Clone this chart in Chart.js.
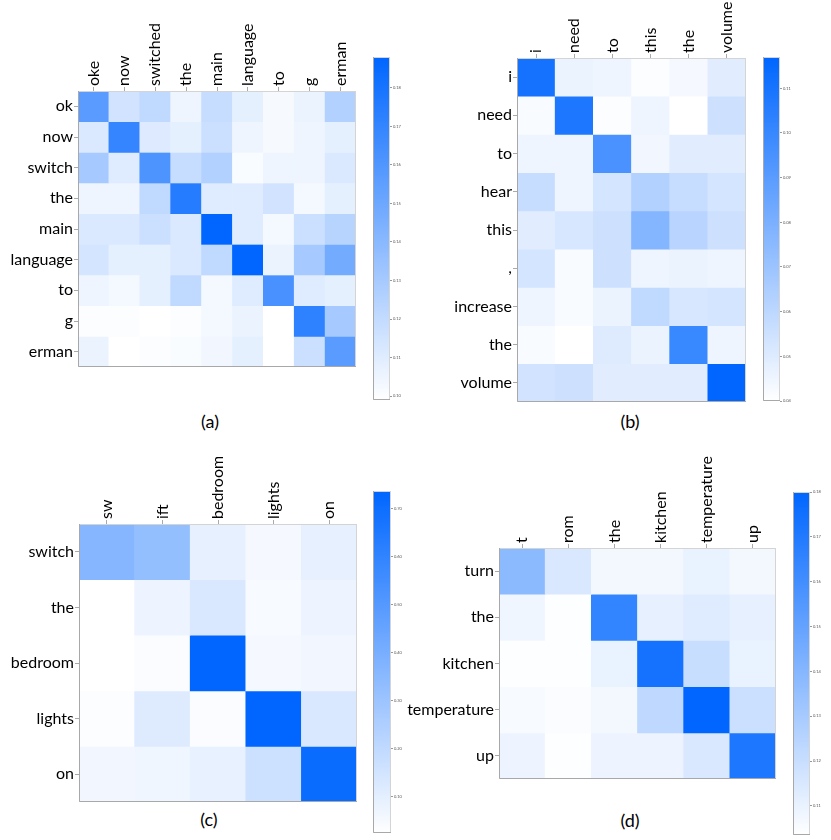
<!DOCTYPE html>
<html>
<head>
<meta charset="utf-8">
<script src="https://cdn.jsdelivr.net/npm/chart.js@4.4.1/dist/chart.umd.min.js"></script>
<style>
body { margin: 0; width: 831px; height: 840px; position: relative; overflow: hidden; background: #fff; font-family: Lato, sans-serif; }
canvas { position: absolute; }
.cap { position: absolute; font-size: 18px; color: #000; transform: translate(-50%, -50%); }
</style>
</head>
<body>
<div class="cap" style="left:210px;top:421px">(a)</div>
<div class="cap" style="left:630px;top:421px">(b)</div>
<div class="cap" style="left:209px;top:819px">(c)</div>
<div class="cap" style="left:630px;top:820px">(d)</div>
<script>
// (a)
const aCols = ['oke', 'now', 'switched', 'the', 'main', 'language', 'to', 'g', 'erman'];
const aRows = ['ok', 'now', 'switch', 'the', 'main', 'language', 'to', 'g', 'erman'];
const aValues = [
  [0.157, 0.115, 0.121, 0.105, 0.119, 0.108, 0.102, 0.106, 0.126],
  [0.112, 0.170, 0.111, 0.108, 0.117, 0.105, 0.102, 0.105, 0.108],
  [0.130, 0.110, 0.161, 0.119, 0.126, 0.101, 0.105, 0.105, 0.112],
  [0.105, 0.105, 0.121, 0.175, 0.110, 0.110, 0.115, 0.103, 0.108],
  [0.112, 0.112, 0.117, 0.112, 0.188, 0.110, 0.103, 0.117, 0.124],
  [0.114, 0.108, 0.108, 0.112, 0.121, 0.188, 0.106, 0.130, 0.148],
  [0.105, 0.103, 0.108, 0.121, 0.103, 0.110, 0.163, 0.110, 0.108],
  [0.100, 0.100, 0.099, 0.100, 0.103, 0.106, 0.099, 0.172, 0.130],
  [0.106, 0.099, 0.100, 0.101, 0.104, 0.108, 0.099, 0.117, 0.157]
];
const aTicks = [0.10, 0.11, 0.12, 0.13, 0.14, 0.15, 0.16, 0.17, 0.18];

// (b)
const bCols = ['i', 'need', 'to', 'this', 'the', 'volume'];
const bRows = ['i', 'need', 'to', 'hear', 'this', ',', 'increase', 'the', 'volume'];
const bValues = [
  [0.111, 0.046, 0.045, 0.041, 0.043, 0.049],
  [0.042, 0.108, 0.041, 0.045, 0.040, 0.055],
  [0.045, 0.045, 0.095, 0.044, 0.049, 0.049],
  [0.057, 0.045, 0.053, 0.063, 0.057, 0.053],
  [0.049, 0.052, 0.055, 0.077, 0.061, 0.055],
  [0.053, 0.042, 0.055, 0.045, 0.046, 0.045],
  [0.045, 0.042, 0.046, 0.059, 0.052, 0.053],
  [0.042, 0.040, 0.050, 0.046, 0.100, 0.045],
  [0.054, 0.055, 0.049, 0.049, 0.049, 0.117]
];
const bTicks = [0.04, 0.05, 0.06, 0.07, 0.08, 0.09, 0.10, 0.11];

// (c)
const cCols = ['sw', 'ift', 'bedroom', 'lights', 'on'];
const cRows = ['switch', 'the', 'bedroom', 'lights', 'on'];
const cValues = [
  [0.366, 0.323, 0.095, 0.053, 0.095],
  [0.024, 0.074, 0.131, 0.045, 0.074],
  [0.024, 0.038, 0.737, 0.053, 0.060],
  [0.031, 0.117, 0.038, 0.737, 0.131],
  [0.060, 0.067, 0.088, 0.167, 0.708]
];
const cTicks = [0.1, 0.2, 0.3, 0.4, 0.5, 0.6, 0.7];

// (d)
const dCols = ['t', 'rom', 'the', 'kitchen', 'temperature', 'up'];
const dRows = ['turn', 'the', 'kitchen', 'temperature', 'up'];
const dValues = [
  [0.138, 0.115, 0.107, 0.107, 0.110, 0.107],
  [0.108, 0.104, 0.165, 0.111, 0.113, 0.111],
  [0.104, 0.104, 0.110, 0.174, 0.120, 0.110],
  [0.106, 0.105, 0.107, 0.123, 0.180, 0.119],
  [0.109, 0.104, 0.109, 0.109, 0.115, 0.171]
];
const dTicks = [0.11, 0.12, 0.13, 0.14, 0.15, 0.16, 0.17, 0.18];

Chart.defaults.font.family = 'Lato';
Chart.defaults.color = '#000';

const Y_W = 96;
const X_H = 92;
const PAD_B = 14;
const FONT = 16;

function cellColor(v, min, max) {
  const t = Math.max(0, Math.min(1, (v - min) / (max - min)));
  return `rgb(${Math.round(255 * (1 - t))},${Math.round(255 - 153 * t)},255)`;
}

// grey frame round the plot area
const framePlugin = {
  id: 'frame',
  afterDatasetsDraw(chart) {
    const { ctx, chartArea: a } = chart;
    ctx.save();
    ctx.lineWidth = 1;
    ctx.strokeStyle = '#d4d4d4';
    ctx.strokeRect(a.left + 0.5, a.top + 0.5, a.right - a.left - 1, a.bottom - a.top - 1);
    ctx.strokeStyle = '#a8a8a8';
    ctx.beginPath();
    ctx.moveTo(a.left + 0.5, a.top);
    ctx.lineTo(a.left + 0.5, a.bottom - 0.5);
    ctx.lineTo(a.right, a.bottom - 0.5);
    ctx.stroke();
    ctx.restore();
  }
};

function addCanvas(left, top, width, height) {
  const c = document.createElement('canvas');
  c.style.left = left + 'px';
  c.style.top = top + 'px';
  c.width = width;
  c.height = height;
  document.body.appendChild(c);
  return c;
}

function heatmap(box, rows, cols, values, min, max) {
  const [x0, y0, x1, y1] = box;
  const canvas = addCanvas(x0 - Y_W, y0 - X_H, (x1 - x0) + Y_W + 4, (y1 - y0) + X_H + PAD_B);
  new Chart(canvas, {
    type: 'bar',
    data: {
      labels: cols,
      datasets: rows.map((r, i) => ({
        data: cols.map(() => [i - 0.5, i + 0.5]),
        backgroundColor: values[i].map(v => cellColor(v, min, max)),
        borderWidth: 0,
        barPercentage: 1,
        categoryPercentage: 1,
        grouped: false
      }))
    },
    options: {
      responsive: false,
      animation: false,
      layout: { padding: { right: 4, bottom: PAD_B } },
      plugins: { legend: { display: false }, tooltip: { enabled: false } },
      scales: {
        x: {
          position: 'top',
          grid: { offset: false, drawOnChartArea: false, tickLength: 4, color: '#aaa' },
          border: { display: false },
          // rotated top labels sit one line height left of the tick, push them back
          ticks: { font: { size: FONT }, minRotation: 90, maxRotation: 90, padding: 1, autoSkip: false, labelOffset: FONT * 1.2 },
          afterFit: s => { s.height = X_H; }
        },
        y: {
          min: -0.5,
          max: rows.length - 0.5,
          reverse: true,
          grid: { drawOnChartArea: false, tickLength: 4, color: '#aaa' },
          border: { display: false },
          afterBuildTicks: s => { s.ticks = rows.map((r, i) => ({ value: i })); },
          ticks: { font: { size: FONT }, padding: 1, callback: v => rows[v] },
          afterFit: s => { s.width = Y_W; }
        }
      }
    },
    plugins: [framePlugin]
  });
}

function colorbar(box, ticks, min, max) {
  const [x0, y0, x1, y1] = box;
  const canvas = addCanvas(x0, y0 - 6, (x1 - x0) + 24, (y1 - y0) + 12);
  new Chart(canvas, {
    type: 'bar',
    data: {
      labels: [''],
      datasets: [{
        data: [[min, max]],
        backgroundColor: (ctx) => {
          const a = ctx.chart.chartArea;
          if (!a) return '#fff';
          const g = ctx.chart.ctx.createLinearGradient(0, a.bottom, 0, a.top);
          g.addColorStop(0, 'rgb(255,255,255)');
          g.addColorStop(1, 'rgb(0,102,255)');
          return g;
        },
        borderWidth: 0,
        barPercentage: 1,
        categoryPercentage: 1
      }]
    },
    options: {
      responsive: false,
      animation: false,
      layout: { padding: { top: 6, bottom: 6 } },
      plugins: { legend: { display: false }, tooltip: { enabled: false } },
      scales: {
        x: { display: false },
        y: {
          position: 'right',
          min: min,
          max: max,
          grid: { drawOnChartArea: false, tickLength: 2, color: '#999' },
          border: { display: false },
          afterBuildTicks: s => { s.ticks = ticks.map(v => ({ value: v })); },
          ticks: { font: { size: 4 }, color: '#555', padding: 1, callback: v => v.toFixed(2) },
          afterFit: s => { s.width = 24; }
        }
      }
    },
    plugins: [framePlugin]
  });
}

heatmap([78, 91, 356, 367], aRows, aCols, aValues, 0.099, 0.188);
colorbar([373, 57, 390, 400], aTicks, 0.099, 0.188);

heatmap([517, 58, 746, 402], bRows, bCols, bValues, 0.040, 0.117);
colorbar([763, 57, 780, 401], bTicks, 0.040, 0.117);

heatmap([79, 524, 357, 802], cRows, cCols, cValues, 0.024, 0.737);
colorbar([373, 491, 391, 833], cTicks, 0.024, 0.737);

heatmap([499, 548, 776, 779], dRows, dCols, dValues, 0.1035, 0.180);
colorbar([793, 492, 810, 835], dTicks, 0.1035, 0.180);
</script>
</body>
</html>
